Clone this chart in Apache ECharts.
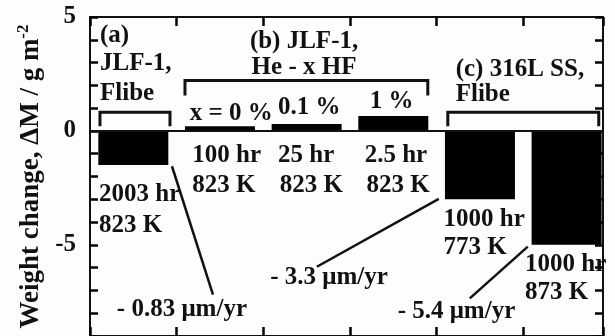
<!DOCTYPE html>
<html><head><meta charset="utf-8">
<script src="https://cdn.jsdelivr.net/npm/echarts@6/dist/echarts.min.js"></script>
<style>html,body{margin:0;padding:0;background:#fdfdfb}#c{width:615px;height:336px}</style>
</head><body><div id="c"></div>
<script>
// Bar positions (category slots on a 0..6 value axis) and weight changes (g/m^2)
const barX = [0.5, 1.5, 2.5, 3.5, 4.5, 5.5];
const barValues = [-1.5, 0.2, 0.3, 0.65, -3.0, -5.0];
const yTickLabels = [5, 0, -5];

// Annotation texts: [x, y, text, align]
const annotations = [
  [0.115, 4.18, '(a)', 'left'],
  [0.115, 2.96, 'JLF-1,', 'left'],
  [0.115, 1.62, 'Flibe', 'left'],
  [2.47, 3.92, '(b) JLF-1,', 'center'],
  [2.47, 2.78, 'He - x HF', 'center'],
  [1.15, 0.77, 'x = 0 %', 'left'],
  [2.17, 1.03, '0.1 %', 'left'],
  [3.48, 1.30, '1 %', 'center'],
  [4.22, 2.69, '(c) 316L SS,', 'left'],
  [4.22, 1.60, 'Flibe', 'left'],
  [0.104, -2.81, '2003 hr', 'left'],
  [0.104, -4.16, '823 K', 'left'],
  [1.18, -1.06, '100 hr', 'left'],
  [1.18, -2.38, '823 K', 'left'],
  [2.17, -1.06, '25 hr', 'left'],
  [2.19, -2.38, '823 K', 'left'],
  [3.17, -1.06, '2.5 hr', 'left'],
  [3.19, -2.38, '823 K', 'left'],
  [4.08, -3.91, '1000 hr', 'left'],
  [4.08, -5.13, '773 K', 'left'],
  [5.02, -5.86, '1000 hr', 'left'],
  [5.02, -7.09, '873 K', 'left'],
  [0.31, -7.83, '- 0.83 \u03bcm/yr', 'left'],
  [2.08, -6.43, '- 3.3 \u03bcm/yr', 'left'],
  [3.55, -7.92, '- 5.4 \u03bcm/yr', 'left']
];

// Group brackets: [x1, x2, yTop, yLeg]
const brackets = [
  [0.115, 0.923, 0.82, 0.20],
  [1.096, 3.898, 2.21, 1.56],
  [4.129, 5.871, 0.82, 0.20]
];

// Leader lines: [x1, y1, x2, y2]
const leaders = [
  [0.946, -1.55, 1.419, -7.18],
  [4.025, -2.98, 2.618, -5.96],
  [5.052, -5.08, 4.383, -7.35]
];

const FONT = 'Liberation Serif';
const INK = '#111';

const chart = echarts.init(document.getElementById('c'), null, {renderer: 'canvas'});

const series = [
  {
    type: 'bar',
    xAxisIndex: 0, yAxisIndex: 0,
    data: barX.map((x, i) => [x, barValues[i]]),
    barWidth: 70,
    itemStyle: {color: '#000'},
    silent: true,
    z: 3,
    markLine: {
      silent: true, symbol: 'none', label: {show: false},
      lineStyle: {color: INK, width: 2, type: 'solid'},
      data: [{yAxis: 0}]
    }
  }
];

brackets.forEach(b => {
  series.push({
    type: 'line', xAxisIndex: 0, yAxisIndex: 0,
    data: [[b[0], b[3]], [b[0], b[2]], [b[1], b[2]], [b[1], b[3]]],
    symbol: 'none', silent: true,
    lineStyle: {color: INK, width: 3, join: 'miter'}, z: 4
  });
});
leaders.forEach(l => {
  series.push({
    type: 'line', xAxisIndex: 0, yAxisIndex: 0,
    data: [[l[0], l[1]], [l[2], l[3]]],
    symbol: 'none', silent: true,
    lineStyle: {color: INK, width: 2.5}, z: 4
  });
});
series.push({
  type: 'custom', xAxisIndex: 0, yAxisIndex: 0, silent: true, z: 5,
  data: annotations.map(a => [a[0], a[1]]),
  renderItem: function (params, api) {
    const a = annotations[params.dataIndex];
    const p = api.coord([api.value(0), api.value(1)]);
    return {
      type: 'text', x: p[0], y: p[1],
      style: {
        text: a[2], fill: INK, align: a[3], verticalAlign: 'middle',
        font: 'bold 25px "' + FONT + '"'
      }
    };
  }
});

function axisLine() { return {show: true, onZero: false, lineStyle: {color: INK, width: 2}}; }
function tick(len) { return {show: true, inside: true, length: len, lineStyle: {color: '#000', width: 2.5}}; }

chart.setOption({
  backgroundColor: '#fdfdfb',
  animation: false,
  grid: {left: 90, right: 12, top: 17, bottom: -2},
  xAxis: [
    {type: 'value', min: 0, max: 5.92, interval: 1, position: 'bottom',
     axisLine: axisLine(), axisTick: tick(9),
     axisLabel: {show: false}, splitLine: {show: false}},
    {type: 'value', min: 0, max: 5.92, interval: 1, position: 'top',
     axisLine: axisLine(), axisTick: tick(9),
     axisLabel: {show: false}, splitLine: {show: false}}
  ],
  yAxis: [
    {type: 'value', min: -9, max: 5, interval: 1, position: 'left',
     axisLine: axisLine(), axisTick: tick(8),
     axisLabel: {
       margin: 14, color: INK, fontFamily: FONT, fontWeight: 'bold', fontSize: 25,
       formatter: v => (yTickLabels.indexOf(v) >= 0 ? String(v) : '')
     },
     splitLine: {show: false},
     name: '{t|Weight change, \u0394M / g m}{s|-2}',
     nameLocation: 'middle', nameGap: 42,
     nameTextStyle: {
       rich: {
         t: {fontFamily: FONT, fontWeight: 'bold', fontSize: 27, color: INK},
         s: {fontFamily: FONT, fontWeight: 'bold', fontSize: 17, color: INK, padding: [0, 0, 14, 0]}
       }
     }},
    {type: 'value', min: -9, max: 5, interval: 1, position: 'right',
     axisLine: axisLine(), axisTick: tick(8),
     axisLabel: {show: false}, splitLine: {show: false}}
  ],
  series: series
});
</script>
</body></html>
